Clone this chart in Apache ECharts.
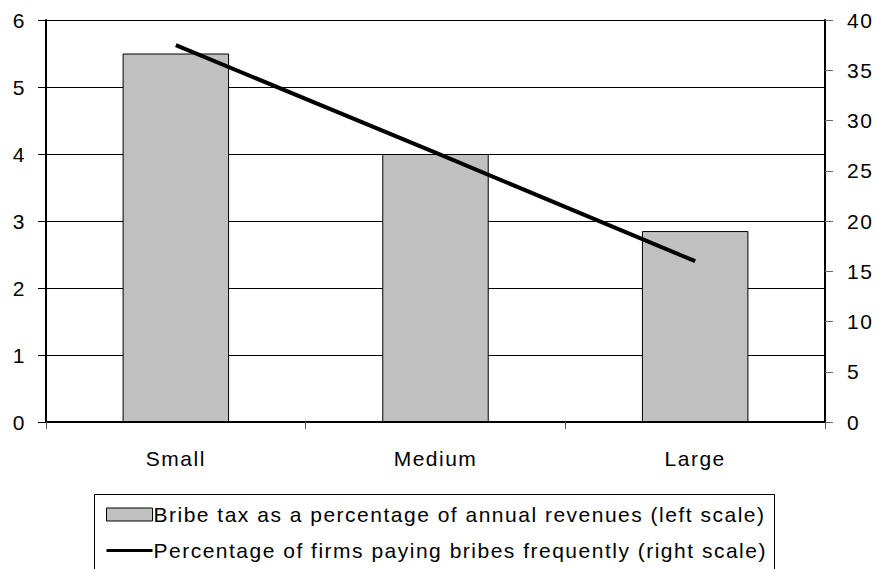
<!DOCTYPE html>
<html><head><meta charset="utf-8">
<script src="https://cdn.jsdelivr.net/npm/echarts@6/dist/echarts.min.js"></script>
<style>html,body{margin:0;padding:0;background:#fff}#c{width:876px;height:569px}#c text{letter-spacing:1.5px}</style>
</head><body><div id="c"></div>
<script>
const categories = ['Small', 'Medium', 'Large'];
const bribeTax = [5.5, 4.0, 2.85];
const firmsPaying = [37.5, 26.8, 16.0];
const barName = 'Bribe tax as a percentage of annual revenues (left scale)';
const lineName = 'Percentage of firms paying bribes frequently (right scale)';

const FONT = 'Liberation Sans, Arial, sans-serif';
const chart = echarts.init(document.getElementById('c'), null, {renderer: 'svg'});
chart.setOption({
  animation: false,
  textStyle: {fontFamily: FONT},
  grid: {left: 46, right: 51, top: 20, bottom: 147, containLabel: false},
  xAxis: {
    type: 'category', data: categories,
    axisLine: {lineStyle: {color: '#000', width: 2}},
    axisTick: {show: true, length: 7, lineStyle: {color: '#555'}},
    axisLabel: {color: '#000', fontSize: 21, margin: 26, fontFamily: FONT}
  },
  yAxis: [
    {type: 'value', min: 0, max: 6, interval: 1, position: 'left',
     axisLine: {show: true, lineStyle: {color: '#000', width: 2}},
     axisTick: {show: true, length: 8, lineStyle: {color: '#000'}},
     axisLabel: {color: '#000', fontSize: 21, margin: 20, fontFamily: FONT},
     splitLine: {show: true, lineStyle: {color: '#000', width: 1}}},
    {type: 'value', min: 0, max: 40, interval: 5, position: 'right',
     axisLine: {show: true, lineStyle: {color: '#000', width: 2}},
     axisTick: {show: true, length: 8, lineStyle: {color: '#666'}},
     axisLabel: {color: '#000', fontSize: 21, margin: 22, fontFamily: FONT},
     splitLine: {show: false}}
  ],
  legend: {
    orient: 'vertical', left: 100, top: 499, itemGap: 15,
    itemWidth: 46, itemHeight: 13,
    textStyle: {color: '#000', fontSize: 21, fontFamily: FONT, padding: [0,0,0,-4]},
    data: [
      {name: barName, icon: 'rect', itemStyle: {color: '#c0c0c0', borderColor: '#000', borderWidth: 1}},
      {name: lineName, itemStyle: {opacity: 0}, lineStyle: {color: '#000', width: 3}}
    ]
  },
  graphic: [{type: 'rect', shape: {x: 94.5, y: 494.5, width: 680, height: 90},
    style: {fill: 'none', stroke: '#000', lineWidth: 1}, z: -1}],
  series: [
    {name: barName, type: 'bar', data: bribeTax, yAxisIndex: 0, barWidth: '41%',
     itemStyle: {color: '#c0c0c0', borderColor: '#000', borderWidth: 1}},
    {name: lineName, type: 'line', data: firmsPaying, yAxisIndex: 1,
     symbol: 'none', lineStyle: {color: '#000', width: 4}, itemStyle: {color: '#000'}}
  ]
});
</script></body></html>
